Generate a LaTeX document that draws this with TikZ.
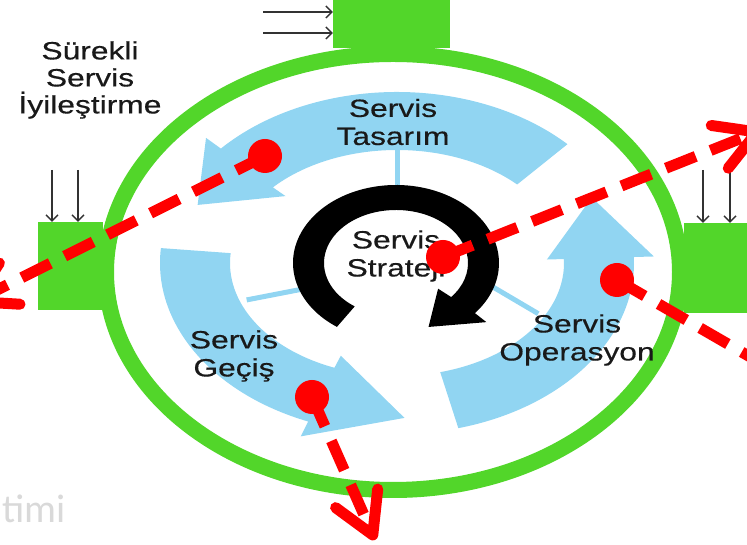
\documentclass[tikz,border=0pt]{standalone}
\usepackage{fontspec}
\setmainfont{Liberation Sans}
\newfontfamily\labelfont[FakeStretch=1.27,FakeBold=0.4]{Liberation Sans}
\newfontfamily\wmfont{Carlito}
\usepackage{tikz}
\usetikzlibrary{arrows.meta}
\definecolor{ringgreen}{RGB}{82,214,42}
\definecolor{cycleblue}{RGB}{145,213,242}
\definecolor{arrowgray}{RGB}{50,50,50}

% one blue band of the cycle, with its head
\newcommand{\cyclearrow}[3]{%
  \fill[cycleblue] (#1:237 and 171) arc[start angle=#1, end angle=#2, x radius=237, y radius=171]
    -- (#2:257 and 187) -- (#3:215 and 155) -- (#2:150 and 100)
    -- (#2:167 and 113) arc[start angle=#2, end angle=#1, x radius=167, y radius=113] -- cycle;}

\tikzset{
  greenbox/.style={fill=ringgreen, inner sep=0pt},
  inarrow/.style={arrowgray, line width=1.4pt, -{Straight Barb[length=6pt,width=12pt]}},
  reddot/.style={circle, fill=red, inner sep=0pt, minimum size=34pt},
  redarrow/.style={red, line width=11pt, dash pattern=on 32pt off 16pt, -{Straight Barb[length=40pt,width=46pt,round]}},
  steptext/.style={align=center, font=\labelfont\fontsize{25}{28}\selectfont, text=black!90},
  stem/.style={cycleblue, line width=5pt}
}

\begin{document}
\begin{tikzpicture}[x=1pt,y=1pt]
        \useasboundingbox (0,0) rectangle (747,545);
        \clip (0,0) rectangle (747,545);

        \draw[ringgreen, line width=16pt] (393,273) ellipse [x radius=287, y radius=218];
        \node[greenbox, minimum width=117pt, minimum height=60pt] (topbox) at (391.5,527) {};
        \node[greenbox, minimum width=65pt, minimum height=88pt] (leftbox) at (70.5,279) {};
        \node[greenbox, minimum width=76pt, minimum height=90pt] (rightbox) at (722,277) {};

        \coordinate (ta1) at (263,533);
        \coordinate (ta2) at (263,512);
        \coordinate (la1) at (52,375);
        \coordinate (la2) at (78,375);
        \coordinate (ra1) at (703,375);
        \coordinate (ra2) at (730,375);
        \draw[inarrow] (ta1) -- (ta1 -| topbox.west);
        \draw[inarrow] (ta2) -- (ta2 -| topbox.west);
        \draw[inarrow] (la1) -- (la1 |- leftbox.north);
        \draw[inarrow] (la2) -- (la2 |- leftbox.north);
        \draw[inarrow] (ra1) -- (ra1 |- rightbox.north);
        \draw[inarrow] (ra2) -- (ra2 |- rightbox.north);

        \begin{scope}[shift={(397,282)}]
          \cyclearrow{44}{138}{158}
          \cyclearrow{175}{248}{272}
          \cyclearrow{285}{362}{385}
          \draw[stem] (90:167 and 113) -- (90:100 and 76);
          \draw[stem] (200:160 and 108) -- (200:100 and 76);
          \draw[stem] (-28:160 and 108) -- (-18:100 and 76);
        \end{scope}

        \begin{scope}[shift={(396,282)}]
          \fill[black] (235:103 and 78) arc[start angle=235, end angle=-40, x radius=103, y radius=78]
            -- (-40:118 and 92) -- (-66:80 and 70) -- (-40:55 and 40)
            -- (-40:72 and 53) arc[start angle=-40, end angle=235, x radius=72, y radius=53] -- cycle;
        \end{scope}

        \node[steptext, font=\labelfont\fontsize{25}{27}\selectfont] (surekli) at (90,465) {Sürekli\\Servis\\İyileştirme};
        \node[steptext] (tasarim) at (393,423) {Servis\\Tasarım};
        \node[steptext] (strateji) at (396,289) {Servis\\Strateji};
        \node[steptext] (gecis) at (234,189) {Servis\\Geçiş};
        \node[steptext] (operasyon) at (577,205) {Servis\\Operasyon};
        \node[text=black!15, font=\wmfont\fontsize{40}{40}\selectfont, anchor=base west, inner sep=0pt] (wmark) at (2,22) {timi};

        % red pointers
        \node[reddot] (dTas) at (265,389) {};
        \node[reddot] (dStr) at (443,288) {};
        \node[reddot] (dOps) at (617,265) {};
        \node[reddot] (dGec) at (312,148) {};
        \coordinate (eTas) at (-31,241);
        \coordinate (eStr) at (762,415);
        \coordinate (eOps) at (830,142);
        \coordinate (eGec) at (375,5);
        \draw[redarrow] (dTas.center) -- (eTas);
        \draw[redarrow] (dStr.center) -- (eStr);
        \draw[redarrow] (dOps.center) -- (eOps);
        \draw[redarrow] (dGec.center) -- (eGec);
\end{tikzpicture}
\end{document}
